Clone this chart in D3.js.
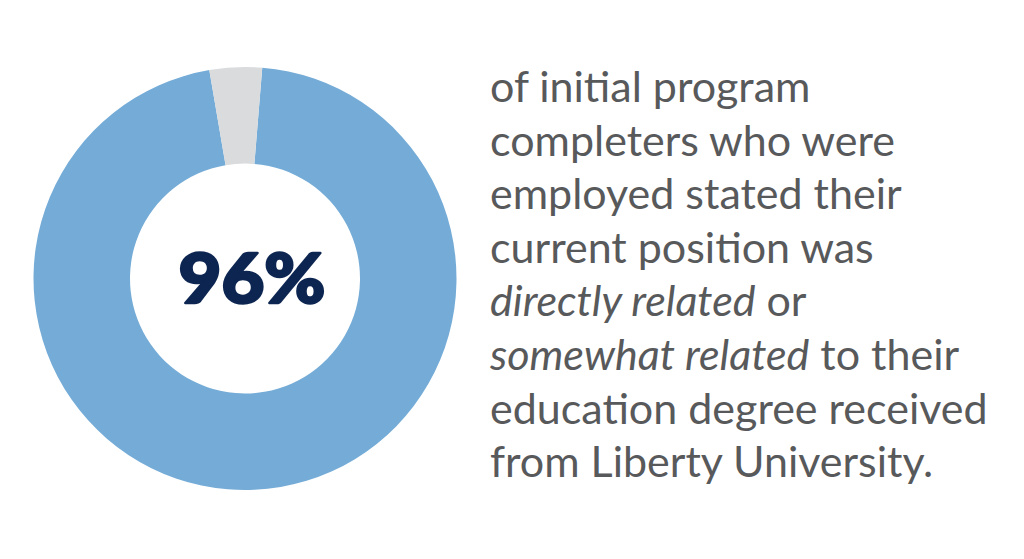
<!DOCTYPE html>
<html>
<head>
<meta charset="utf-8">
<script src="https://cdn.jsdelivr.net/npm/d3@7"></script>
<style>
  html, body { margin: 0; padding: 0; background: #ffffff; }
  svg { display: block; }
</style>
</head>
<body>
<svg id="chart" width="1024" height="559"></svg>
<script>
// ---- data ----
const categories = ["Directly or somewhat related", "Not related"];
const values = [96, 4];
const colors = ["#75acd7", "#d9dbdd"];
const centerLabel = "96%";
const descriptionLines = [
  [{t: "of initial program", i: false}],
  [{t: "completers who were", i: false}],
  [{t: "employed stated their", i: false}],
  [{t: "current position was", i: false}],
  [{t: "directly related", i: true}, {t: " or", i: false}],
  [{t: "somewhat related", i: true}, {t: " to their", i: false}],
  [{t: "education degree received", i: false}],
  [{t: "from Liberty University.", i: false}]
];

// ---- layout ----
const svg = d3.select("#chart");
const cx = 245, cy = 278.5, outerR = 211.5, innerR = 115;

const grayCenter = -0.044; // radians, gap centred slightly left of 12 o'clock
const grayHalf = (values[1] / d3.sum(values)) * Math.PI;
const start = grayCenter + grayHalf;

const pie = d3.pie().sort(null).value(d => d)
  .startAngle(start).endAngle(start + 2 * Math.PI);
const arc = d3.arc().innerRadius(innerR).outerRadius(outerR);

const g = svg.append("g").attr("transform", `translate(${cx},${cy})`);
g.selectAll("path")
  .data(pie(values))
  .join("path")
  .attr("d", arc)
  .attr("fill", (d, i) => colors[i]);

g.append("text")
  .attr("x", 7)
  .attr("y", 24)
  .attr("text-anchor", "middle")
  .attr("font-family", "Lato, 'Open Sans', sans-serif")
  .attr("font-weight", 900)
  .attr("font-size", 68)
  .attr("fill", "#0c2551")
  .attr("stroke", "#0c2551")
  .attr("stroke-width", 2.5)
  .attr("stroke-linejoin", "round")
  .attr("textLength", 147)
  .attr("lengthAdjust", "spacingAndGlyphs")
  .text(centerLabel);

const tx = 490, ty0 = 102, lh = 53.6;
const txt = svg.append("g")
  .attr("font-family", "Lato, 'Open Sans', sans-serif")
  .attr("font-size", 43)
  .attr("fill", "#58595b");

descriptionLines.forEach((line, li) => {
  const t = txt.append("text").attr("x", tx).attr("y", ty0 + li * lh);
  line.forEach(seg => {
    t.append("tspan")
      .attr("font-style", seg.i ? "italic" : "normal")
      .attr("xml:space", "preserve")
      .text(seg.t);
  });
});
</script>
</body>
</html>
